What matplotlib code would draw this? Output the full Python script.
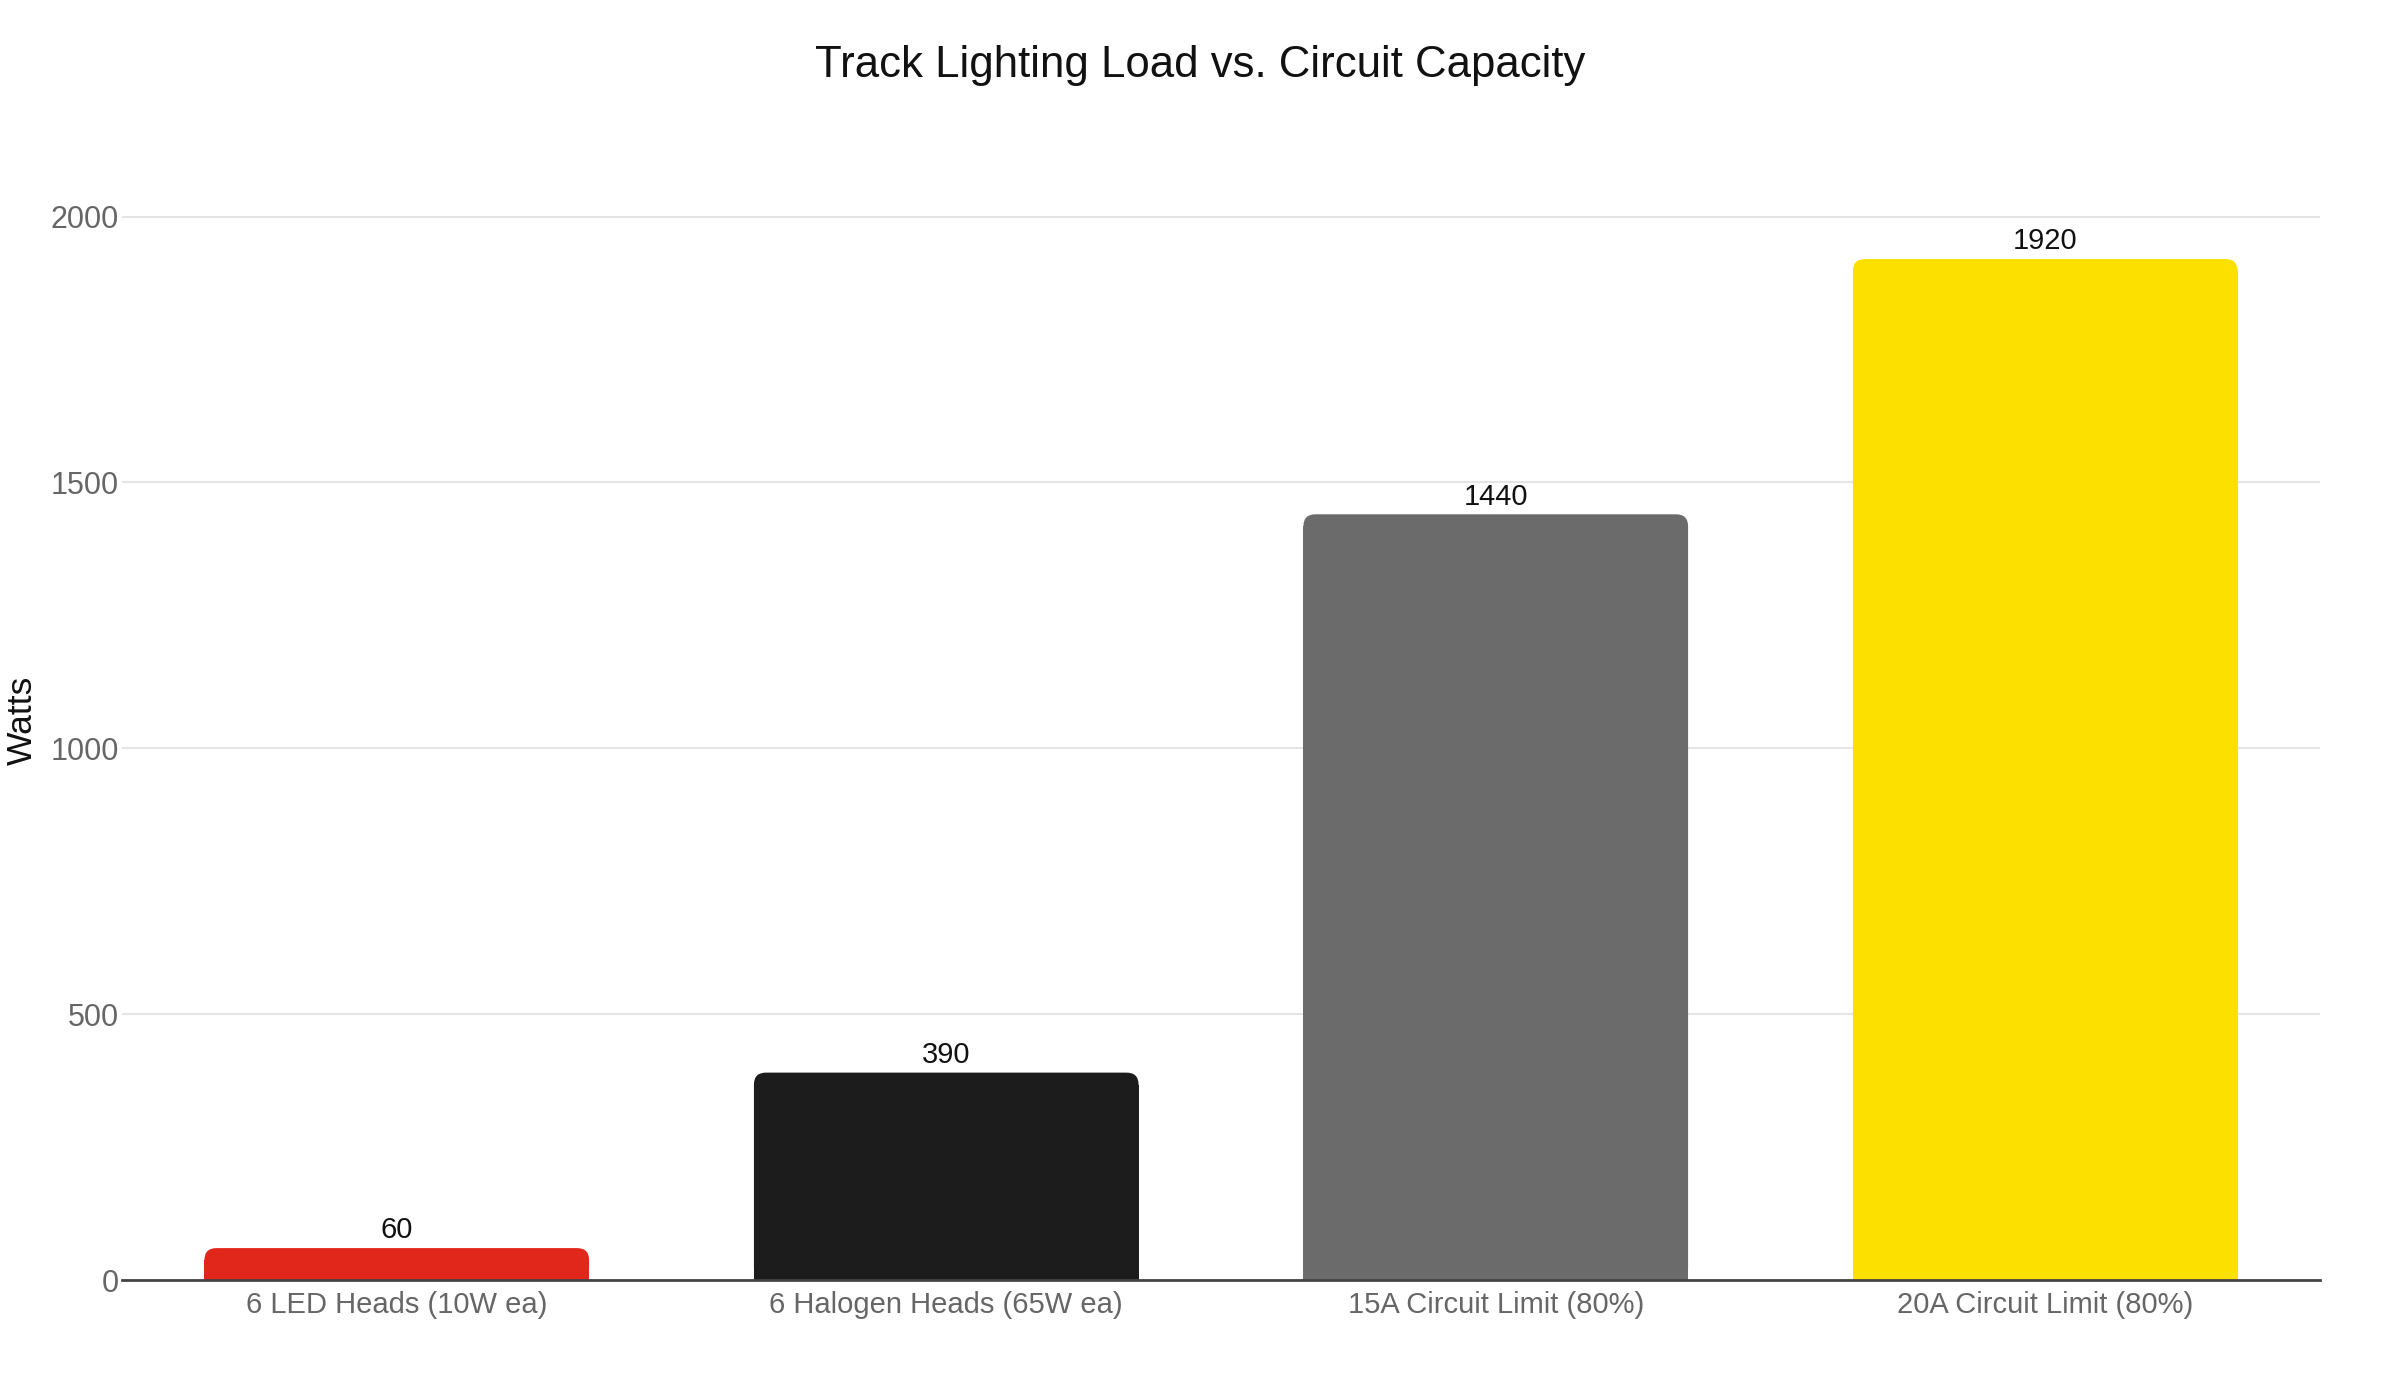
import matplotlib
matplotlib.use("Agg")
import matplotlib.pyplot as plt
from matplotlib.patches import FancyBboxPatch, Rectangle

categories = ["6 LED Heads (10W ea)", "6 Halogen Heads (65W ea)",
              "15A Circuit Limit (80%)", "20A Circuit Limit (80%)"]
watts = [60, 390, 1440, 1920]
colors = ["#E1261C", "#1C1C1C", "#6B6B6B", "#FCE100"]
yticks = [0, 500, 1000, 1500, 2000]

plt.rcParams['font.family'] = ['Liberation Sans', 'DejaVu Sans']

W, H = 2400, 1400
left, right, bottom, top = 122, 2320, 1280, 208
fig = plt.figure(figsize=(24, 14), dpi=100)
ax = fig.add_axes([left / W, 1 - bottom / H, (right - left) / W, (bottom - top) / H])

x = list(range(len(categories)))
bars = ax.bar(x, watts, width=0.7, color=colors, zorder=2)
ax.set_xlim(-0.5, 3.5)
ymax = 2016
ax.set_ylim(0, ymax)

# rounded top corners
fig.canvas.draw()
tr = ax.transData
px_per_x = tr.transform((1, 0))[0] - tr.transform((0, 0))[0]
px_per_y = tr.transform((0, 1))[1] - tr.transform((0, 0))[1]
r_px = 12
rx = r_px / px_per_x
ry = r_px / px_per_y
for b in bars:
    b.set_visible(False)
    x0, w, h = b.get_x(), b.get_width(), b.get_height()
    fc = b.get_facecolor()
    ax.add_patch(FancyBboxPatch((x0, 0), w, h,
                                boxstyle=f"round,pad=0,rounding_size={rx}",
                                mutation_aspect=ry / rx,
                                facecolor=fc, edgecolor="none", zorder=2))
    ax.add_patch(Rectangle((x0, 0), w, max(h - ry, 0), facecolor=fc,
                           edgecolor="none", zorder=2))
    ax.text(x0 + w / 2, h + ymax * 0.0035, f"{int(h)}", ha="center", va="bottom",
            fontsize=21, color="#111111", zorder=3)

ax.set_yticks(yticks)
ax.set_yticklabels([str(t) for t in yticks])
ax.set_xticks(x)
ax.set_xticklabels(categories)
ax.tick_params(axis="both", length=0, labelcolor="#666666")
ax.tick_params(axis="x", pad=8, labelsize=21)
ax.tick_params(axis="y", pad=2, labelsize=22)
ax.grid(axis="y", color="#E5E5E5", linewidth=1.5, zorder=0)
ax.set_axisbelow(True)
for s in ["top", "right", "left"]:
    ax.spines[s].set_visible(False)
ax.spines["bottom"].set_color("#444444")
ax.spines["bottom"].set_linewidth(2)
ax.spines["bottom"].set_zorder(4)

fig.text(22 / W, 1 - 720 / H, "Watts", rotation=90, ha="center", va="center",
         fontsize=25.5, color="#111111")
fig.text(0.5, 1 - 65 / H, "Track Lighting Load vs. Circuit Capacity",
         ha="center", va="center", fontsize=31.5, color="#111111")

fig.savefig("out.png", dpi=100, facecolor="white")
